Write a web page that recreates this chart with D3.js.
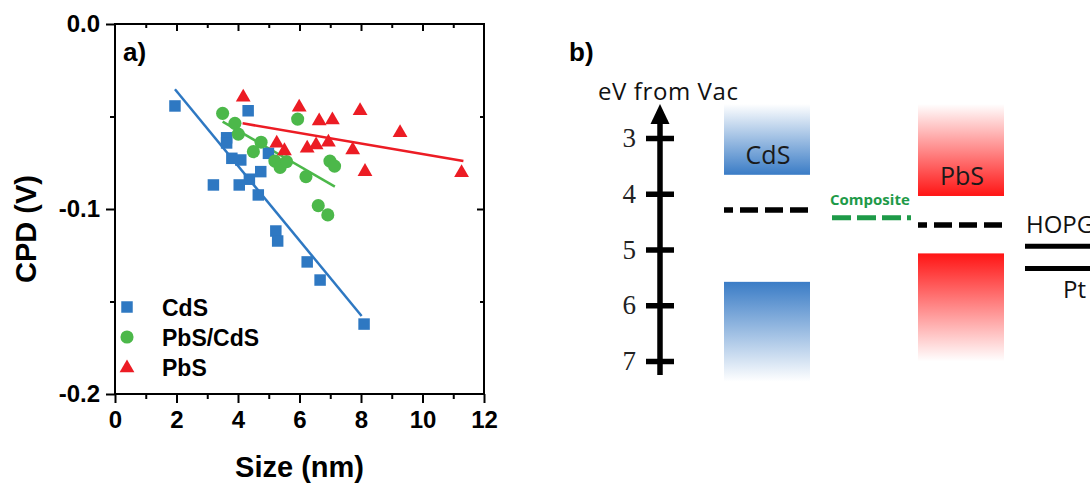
<!DOCTYPE html>
<html>
<head>
<meta charset="utf-8">
<script src="https://cdn.jsdelivr.net/npm/d3@7"></script>
<style>
  html, body { margin: 0; padding: 0; background: #fff; }
  svg { display: block; }
</style>
</head>
<body>
<svg id="fig" width="1090" height="483"></svg>
<script>
// ---- panel a) : contact potential difference vs. particle size ----
const cdsSize = [1.95, 4.33, 3.63, 3.63, 3.80, 4.09, 4.99, 4.74, 4.37, 3.20, 4.04, 4.66, 5.23, 5.29, 6.25, 6.67, 8.10];
const cdsCpd  = [-0.0443, -0.0469, -0.0615, -0.0643, -0.0726, -0.0735, -0.0699, -0.0798, -0.0839, -0.0870, -0.0870, -0.0924, -0.1119, -0.1173, -0.1286, -0.1384, -0.1622];

const compSize = [3.50, 3.90, 4.01, 4.75, 4.50, 5.20, 5.37, 5.58, 5.94, 6.21, 6.61, 6.92, 6.99, 7.14];
const compCpd  = [-0.0483, -0.0537, -0.0595, -0.0639, -0.0690, -0.0741, -0.0775, -0.0744, -0.0514, -0.0825, -0.0982, -0.1032, -0.0741, -0.0768];

const pbsSize = [4.17, 5.26, 5.51, 5.99, 6.25, 6.54, 6.64, 6.94, 7.07, 7.73, 7.97, 8.13, 9.27, 11.27];
const pbsCpd  = [-0.0396, -0.0645, -0.0686, -0.0450, -0.0672, -0.0654, -0.0524, -0.0639, -0.0519, -0.0681, -0.0469, -0.0798, -0.0588, -0.0804];

// linear fit lines, endpoints [size, cpd]
const cdsFit  = [[1.95, -0.0353], [8.02, -0.1578]];
const compFit = [[3.50, -0.0528], [7.15, -0.0879]];
const pbsFit  = [[4.15, -0.0537], [11.33, -0.0741]];

const seriesNames = ['CdS', 'PbS/CdS', 'PbS'];

const xMajor = [0, 2, 4, 6, 8, 10, 12];
const xMinor = [1, 3, 5, 7, 9, 11];
const yMajor = [-0.2, -0.1, 0.0];
const yTickLabels = ['-0.2', '-0.1', '0.0'];
const yMinor = [-0.15, -0.05];

// ---- panel b) : energy levels (eV below vacuum) ----
const evTicks = [3, 4, 5, 6, 7];
const bandNames = ['CdS', 'PbS'];
const cbEdge = [3.66, 4.04];
const vbEdge = [5.58, 5.07];
const fermiLevel = [4.29, 4.56];
const compositeLevel = 4.43;
const hopgLevel = 4.94;
const ptLevel = 5.34;

const svg = d3.select('#fig');
const SANS = '"Liberation Sans", Arial, Helvetica, sans-serif';
const UI = '"Open Sans", "Noto Sans", sans-serif';
const SERIF = '"Liberation Serif", "Times New Roman", serif';

const blue = '#2e78c2', green = '#4cb84a', red = '#ec1c24';

// ================= panel a =================
const x = d3.scaleLinear().domain([0, 12]).range([115, 484]);
const y = d3.scaleLinear().domain([-0.2, 0]).range([394, 24]);

const ga = svg.append('g');

function styleAxis(g, showText) {
  g.select('.domain').remove();
  g.selectAll('.tick line').attr('stroke', '#000').attr('stroke-width', 2);
  g.selectAll('.tick text')
    .attr('fill', '#000')
    .style('font-family', SANS)
    .style('font-weight', 'bold')
    .style('font-size', '24px');
  if (!showText) g.selectAll('.tick text').remove();
}

// bottom
ga.append('g').attr('transform', `translate(0,${y(-0.2)})`)
  .call(d3.axisBottom(x).tickValues(xMajor).tickSize(9).tickPadding(8).tickFormat(d3.format('d')))
  .call(g => styleAxis(g, true));
ga.append('g').attr('transform', `translate(0,${y(-0.2)})`)
  .call(d3.axisBottom(x).tickValues(xMinor).tickSize(5).tickFormat(''))
  .call(g => styleAxis(g, false));
// top (ticks inward)
ga.append('g').attr('transform', `translate(0,${y(0)})`)
  .call(d3.axisTop(x).tickValues(xMajor.slice(1, -1)).tickSize(-7).tickFormat(''))
  .call(g => styleAxis(g, false));
ga.append('g').attr('transform', `translate(0,${y(0)})`)
  .call(d3.axisTop(x).tickValues(xMinor).tickSize(-4).tickFormat(''))
  .call(g => styleAxis(g, false));
// left
ga.append('g').attr('transform', `translate(${x(0)},0)`)
  .call(d3.axisLeft(y).tickValues(yMajor).tickSize(9).tickPadding(6).tickFormat((d, i) => yTickLabels[i]))
  .call(g => styleAxis(g, true));
ga.append('g').attr('transform', `translate(${x(0)},0)`)
  .call(d3.axisLeft(y).tickValues(yMinor).tickSize(5).tickFormat(''))
  .call(g => styleAxis(g, false));
// right (ticks inward)
ga.append('g').attr('transform', `translate(${x(12)},0)`)
  .call(d3.axisRight(y).tickValues([-0.1]).tickSize(-7).tickFormat(''))
  .call(g => styleAxis(g, false));
ga.append('g').attr('transform', `translate(${x(12)},0)`)
  .call(d3.axisRight(y).tickValues(yMinor).tickSize(-4).tickFormat(''))
  .call(g => styleAxis(g, false));

// frame
ga.append('rect')
  .attr('x', x(0)).attr('y', y(0))
  .attr('width', x(12) - x(0)).attr('height', y(-0.2) - y(0))
  .attr('fill', 'none').attr('stroke', '#000').attr('stroke-width', 2);

// fit lines
const line = d3.line().x(d => x(d[0])).y(d => y(d[1]));
[[cdsFit, blue], [compFit, green], [pbsFit, red]].forEach(([pts, c]) => {
  ga.append('path').attr('d', line(pts)).attr('fill', 'none')
    .attr('stroke', c).attr('stroke-width', 2.5);
});

const symSquare = d3.symbol().type(d3.symbolSquare).size(132);
const symCircle = d3.symbol().type(d3.symbolCircle).size(135);
const symTri = d3.symbol().type(d3.symbolTriangle).size(95);

function scatter(xs, ys, sym, color) {
  ga.append('g').selectAll('path')
    .data(xs.map((v, i) => [v, ys[i]]))
    .join('path')
    .attr('d', sym)
    .attr('transform', d => `translate(${x(d[0])},${y(d[1])})`)
    .attr('fill', color);
}
scatter(cdsSize, cdsCpd, symSquare, blue);
scatter(compSize, compCpd, symCircle, green);
scatter(pbsSize, pbsCpd, symTri, red);

// legend
const legSyms = [symSquare, symCircle, symTri];
const legCols = [blue, green, red];
seriesNames.forEach((name, i) => {
  const cy = 307 + i * 30;
  ga.append('path').attr('d', legSyms[i]).attr('fill', legCols[i])
    .attr('transform', `translate(127,${cy + (i === 2 ? 1 : 0)})`);
  ga.append('text').attr('x', 162).attr('y', cy + 8.5)
    .style('font-family', SANS).style('font-weight', 'bold').style('font-size', '23px')
    .text(name);
});

// titles
ga.append('text').attr('x', (x(0) + x(12)) / 2).attr('y', 477)
  .attr('text-anchor', 'middle')
  .style('font-family', SANS).style('font-weight', 'bold').style('font-size', '29px')
  .text('Size (nm)');
ga.append('text').attr('transform', 'translate(36,229) rotate(-90)')
  .attr('text-anchor', 'middle')
  .style('font-family', SANS).style('font-weight', 'bold').style('font-size', '29px')
  .text('CPD (V)');
ga.append('text').attr('x', 123).attr('y', 61)
  .style('font-family', SANS).style('font-weight', 'bold').style('font-size', '26px')
  .text('a)');

// ================= panel b =================
const ev = d3.scaleLinear().domain([3, 7]).range([138, 361]);
const gb = svg.append('g');
const defs = svg.append('defs');

function fade(id, color, solidAtBottom) {
  const g = defs.append('linearGradient').attr('id', id)
    .attr('x1', 0).attr('y1', 0).attr('x2', 0).attr('y2', 1);
  g.append('stop').attr('offset', 0).attr('stop-color', color).attr('stop-opacity', solidAtBottom ? 0 : 1);
  g.append('stop').attr('offset', 1).attr('stop-color', color).attr('stop-opacity', solidAtBottom ? 1 : 0);
}
const bandCol = ['#3a7cc6', '#ff1414'];
fade('cbCdS', bandCol[0], true); fade('vbCdS', bandCol[0], false);
fade('cbPbS', bandCol[1], true); fade('vbPbS', bandCol[1], false);

const bandX = [724, 918];
const bandW = 86;
const cbTop = 104;            // where the fade of the conduction band ends
const vbLen = [100, 108];     // fade length of valence band

bandNames.forEach((name, i) => {
  gb.append('rect').attr('x', bandX[i]).attr('y', cbTop)
    .attr('width', bandW).attr('height', ev(cbEdge[i]) - cbTop)
    .attr('fill', `url(#cb${name})`);
  gb.append('rect').attr('x', bandX[i]).attr('y', ev(vbEdge[i]))
    .attr('width', bandW).attr('height', vbLen[i])
    .attr('fill', `url(#vb${name})`);
  gb.append('text').attr('x', bandX[i] + bandW / 2 + 1).attr('y', ev(cbEdge[i]) - 11)
    .attr('text-anchor', 'middle')
    .style('font-family', UI).style('font-size', '25px').attr('fill', '#1a1a1a')
    .text(name);
  gb.append('line')
    .attr('x1', bandX[i]).attr('x2', bandX[i] + bandW)
    .attr('y1', ev(fermiLevel[i])).attr('y2', ev(fermiLevel[i]))
    .attr('stroke', '#000').attr('stroke-width', 5.5)
    .attr('stroke-dasharray', '18,7').attr('stroke-dashoffset', 9);
});

// composite level
gb.append('line')
  .attr('x1', 832).attr('x2', 911)
  .attr('y1', ev(compositeLevel)).attr('y2', ev(compositeLevel))
  .attr('stroke', '#1e9a48').attr('stroke-width', 5)
  .attr('stroke-dasharray', '19,6');
gb.append('text').attr('x', 830).attr('y', ev(compositeLevel) - 13)
  .style('font-family', UI).style('font-weight', 'bold').style('font-size', '15px')
  .attr('fill', '#1e9a48')
  .text('Composite');

// electrodes
[[hopgLevel, 'HOPG', -13], [ptLevel, 'Pt', 30]].forEach(([lv, name, dy]) => {
  gb.append('line').attr('x1', 1025).attr('x2', 1090)
    .attr('y1', ev(lv)).attr('y2', ev(lv))
    .attr('stroke', '#000').attr('stroke-width', 5);
  gb.append('text').attr('x', name === 'HOPG' ? 1026 : 1063).attr('y', ev(lv) + dy)
    .style('font-family', UI).style('font-size', '24px').attr('fill', '#111')
    .text(name);
});

// energy axis with arrow
gb.append('line').attr('x1', 660).attr('x2', 660).attr('y1', 118).attr('y2', 375)
  .attr('stroke', '#000').attr('stroke-width', 5.5);
gb.append('path').attr('d', 'M660,104 L669.5,124 L650.5,124 Z').attr('fill', '#000');
gb.append('g').attr('transform', 'translate(660,0)')
  .call(d3.axisLeft(ev).tickValues(evTicks).tickSize(14).tickPadding(10).tickFormat(d3.format('d')))
  .call(g => {
    g.select('.domain').remove();
    g.selectAll('.tick line').attr('x2', 14).attr('x1', -14)
      .attr('stroke', '#000').attr('stroke-width', 5.5);
    g.selectAll('.tick text').attr('fill', '#222')
      .style('font-family', SERIF).style('font-size', '27px');
  });
gb.append('text').attr('x', 598).attr('y', 100)
  .style('font-family', UI).style('font-size', '24px').attr('fill', '#111')
  .style('letter-spacing', '0.6px')
  .text('eV from Vac');
gb.append('text').attr('x', 569).attr('y', 61)
  .style('font-family', SANS).style('font-weight', 'bold').style('font-size', '26px')
  .text('b)');
</script>
</body>
</html>
